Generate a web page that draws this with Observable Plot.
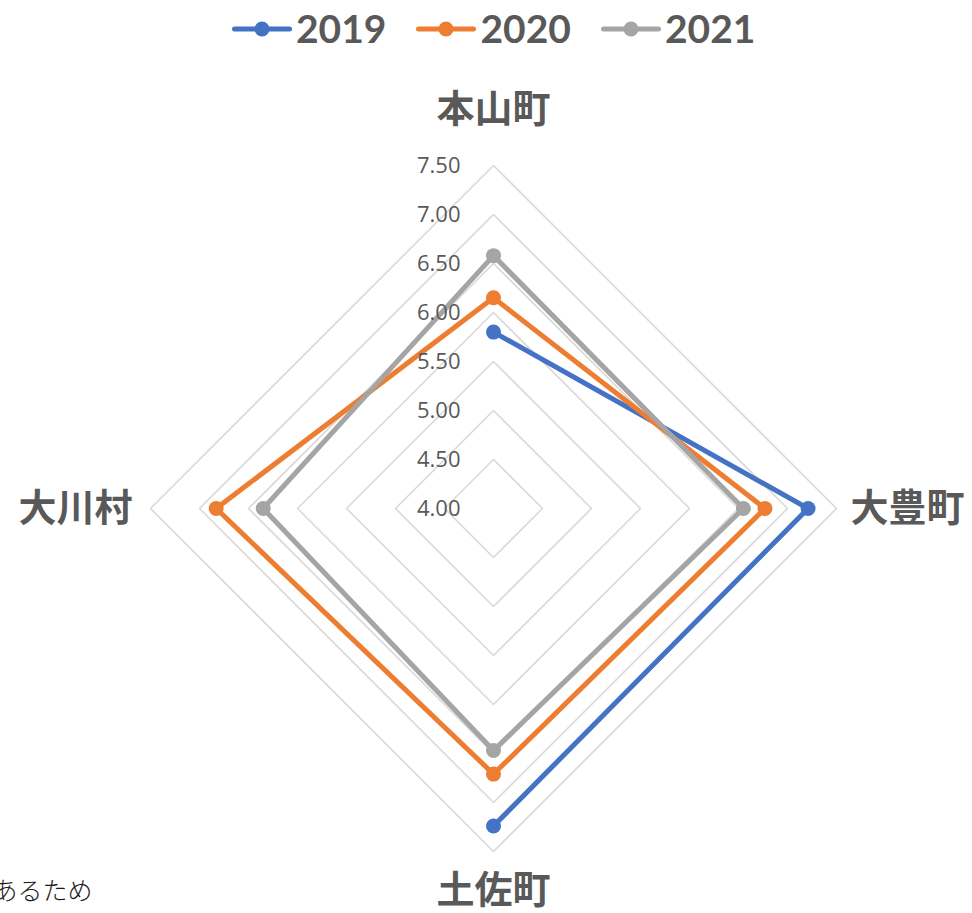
<!DOCTYPE html>
<html>
<head>
<meta charset="utf-8">
<script src="https://cdn.jsdelivr.net/npm/d3@7"></script>
<script src="https://cdn.jsdelivr.net/npm/@observablehq/plot@0.6"></script>
<style>
  html, body { margin: 0; padding: 0; background: #fff; width: 972px; height: 913px; overflow: hidden; }
  #legend { height: 70px; display: flex; justify-content: flex-start; align-items: center; padding-left: 231px; padding-bottom: 13px; box-sizing: border-box; }
  .item { display: flex; align-items: center; font-family: Lato, "Open Sans", sans-serif; font-weight: 700; font-size: 39px; color: #595959; margin-right: 29px; line-height: 1; }
  .item svg { margin-right: 3px; }
  #chart svg { display: block; }
</style>
</head>
<body>
<div id="legend"></div>
<div id="chart"></div>
<script>
// ---- data ----
const axes = ["本山町", "大豊町", "土佐町", "大川村"];
const series = ["2019", "2020", "2021"];
const v2019 = [5.80, 7.21, 7.24, null];
const v2020 = [6.15, 6.77, 6.71, 6.83];
const v2021 = [6.58, 6.55, 6.47, 6.35];
const tickValues = [4.0, 4.5, 5.0, 5.5, 6.0, 6.5, 7.0, 7.5];
const colors = ["#4472C4", "#ED7D31", "#A5A5A5"];
const note = "あるため";

const rMin = 4.0, rMax = 7.5;
const seriesValues = [v2019, v2020, v2021];

// angles: top, right, bottom, left
const angle = (i) => (i * 2 * Math.PI) / axes.length;
const pt = (i, v) => {
  const r = v - rMin;
  return { x: r * Math.sin(angle(i)), y: r * Math.cos(angle(i)) };
};

// grid rings
const rings = [];
tickValues.filter(t => t > rMin).forEach(t => {
  for (let i = 0; i <= axes.length; i++) {
    const p = pt(i % axes.length, t);
    rings.push({ ring: t, ...p });
  }
});

// series lines
const lineRows = [];
const dotRows = [];
series.forEach((s, si) => {
  const vals = seriesValues[si];
  const allPresent = vals.every(v => v != null);
  const n = allPresent ? axes.length + 1 : axes.length;
  for (let k = 0; k < n; k++) {
    const i = k % axes.length;
    const v = vals[i];
    if (v == null) continue;
    lineRows.push({ series: s, ...pt(i, v) });
  }
  vals.forEach((v, i) => { if (v != null) dotRows.push({ series: s, axis: axes[i], value: v, ...pt(i, v) }); });
});

const tickRows = tickValues.map(t => ({ label: t.toFixed(2), ...pt(0, t) }));

const axisLabelRows = axes.map((a, i) => {
  const p = pt(i, rMax);
  return { label: a, i, ...p };
});

// ---- layout ----
const W = 972, H = 843, cx = 493, cy = 438, k = 98;

// legend
const legend = document.getElementById("legend");
series.forEach((s, si) => {
  const d = document.createElement("div");
  d.className = "item";
  d.innerHTML = `<svg width="62" height="18"><line x1="3.5" y1="9" x2="58.5" y2="9" stroke="${colors[si]}" stroke-width="5" stroke-linecap="round"/><circle cx="31" cy="9" r="7.5" fill="${colors[si]}"/></svg><span>${s}</span>`;
  legend.appendChild(d);
});

const labelOffsets = [
  { dx: 0, dy: -56, anchor: "middle" },
  { dx: 14, dy: 0, anchor: "start" },
  { dx: 0, dy: 39, anchor: "middle" },
  { dx: -18, dy: 0, anchor: "end" }
];

const chart = Plot.plot({
  width: W,
  height: H,
  margin: 0,
  x: { domain: [-cx / k, (W - cx) / k], range: [0, W], axis: null },
  y: { domain: [-(H - cy) / k, cy / k], range: [H, 0], axis: null },
  color: { domain: series, range: colors },
  marks: [
    Plot.line(rings, { x: "x", y: "y", z: "ring", stroke: "#D9D9D9", strokeWidth: 1.6 }),
    ...series.map((s, si) =>
      Plot.line(lineRows.filter(d => d.series === s), { x: "x", y: "y", stroke: colors[si], strokeWidth: 5, strokeLinejoin: "round", strokeLinecap: "round" })
    ),
    ...series.map((s, si) =>
      Plot.dot(dotRows.filter(d => d.series === s), { x: "x", y: "y", r: 7.5, fill: colors[si], stroke: "none" })
    ),
    Plot.text(tickRows, { x: "x", y: "y", text: "label", dx: -33, textAnchor: "end", fill: "#595959", fontSize: 22, fontFamily: "'Open Sans', sans-serif" }),
    ...axisLabelRows.map((d, i) =>
      Plot.text([d], { x: "x", y: "y", text: "label", dx: labelOffsets[i].dx, dy: labelOffsets[i].dy, textAnchor: labelOffsets[i].anchor, fill: "#595959", fontSize: 38, fontWeight: "bold", fontFamily: "'Noto Sans CJK JP', sans-serif" })
    ),
    Plot.text([note], { frameAnchor: "bottom-left", text: d => d, dx: -8, dy: -14, textAnchor: "start", fill: "#1a1a1a", fontSize: 25, fontWeight: 300, fontFamily: "'Noto Sans CJK JP', sans-serif" })
  ]
});
document.getElementById("chart").appendChild(chart);
</script>
</body>
</html>
